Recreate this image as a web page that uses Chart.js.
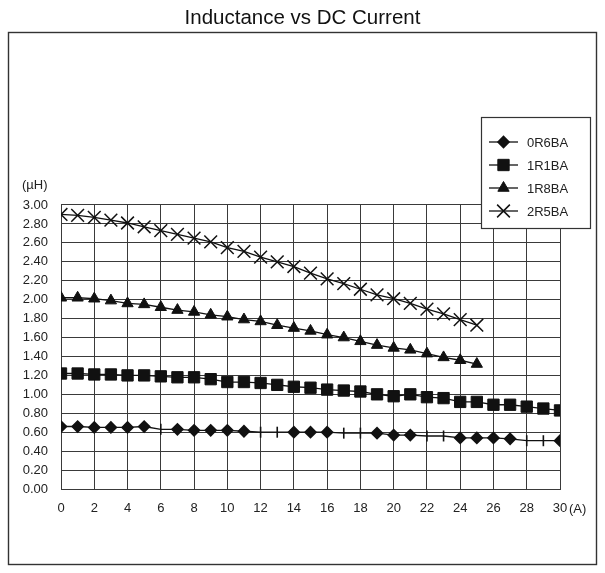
<!DOCTYPE html>
<html>
<head>
<meta charset="utf-8">
<title>Inductance vs DC Current</title>
<script src="https://cdn.jsdelivr.net/npm/chart.js"></script>
<style>
  body { margin: 0; background: #fff; }
</style>
</head>
<body>
<canvas id="inductanceChart" width="605" height="573"></canvas>
<script>
// DC current (A) at each measured point
const currentA = [0, 1, 2, 3, 4, 5, 6, 7, 8, 9, 10, 11, 12, 13, 14, 15,
  16, 17, 18, 19, 20, 21, 22, 23, 24, 25, 26, 27, 28, 29, 30];

// inductance in uH
const l0R6BA = [0.66, 0.66, 0.65, 0.65, 0.65, 0.66, 0.63, 0.63, 0.62, 0.62, 0.62,
  0.61, 0.60, 0.60, 0.60, 0.60, 0.60, 0.59, 0.59, 0.59, 0.57, 0.57, 0.56, 0.56,
  0.54, 0.54, 0.54, 0.53, 0.51, 0.51, 0.51];
const l1R1BA = [1.22, 1.22, 1.21, 1.21, 1.20, 1.20, 1.19, 1.18, 1.18, 1.16, 1.13,
  1.13, 1.12, 1.10, 1.08, 1.07, 1.05, 1.04, 1.03, 1.00, 0.98, 1.00, 0.97, 0.96,
  0.92, 0.92, 0.89, 0.89, 0.87, 0.85, 0.83];
const l1R8BA = [2.02, 2.02, 2.01, 1.99, 1.96, 1.95, 1.92, 1.89, 1.87, 1.84, 1.82,
  1.79, 1.77, 1.73, 1.70, 1.67, 1.63, 1.60, 1.56, 1.52, 1.49, 1.47, 1.43, 1.39,
  1.36, 1.32];
const l2R5BA = [2.90, 2.89, 2.87, 2.84, 2.81, 2.77, 2.73, 2.69, 2.65, 2.61, 2.55,
  2.51, 2.45, 2.40, 2.35, 2.28, 2.22, 2.17, 2.11, 2.05, 2.01, 1.96, 1.90, 1.85,
  1.79, 1.73];

// the 0R6BA trace shows a plain vertical tick instead of a diamond here
const tickMarkAt = [6, 12, 13, 17, 18, 22, 23, 28, 29];

const seriesNames = ["0R6BA", "1R1BA", "1R8BA", "2R5BA"];

const FONT = "'Liberation Sans', Arial, Helvetica, sans-serif";
const INK = "#111";

function toPoints(values) {
  return values.map((v, i) => ({ x: currentA[i], y: v }));
}

const diamondStyles = l0R6BA.map((v, i) => (tickMarkAt.includes(i) ? "line" : "rectRot"));
const diamondRot = l0R6BA.map((v, i) => (tickMarkAt.includes(i) ? 90 : 0));

function lineSet(label, values, style, radius, extra) {
  return Object.assign({
    label: label,
    data: toPoints(values),
    borderColor: INK,
    backgroundColor: INK,
    borderWidth: 1.3,
    pointStyle: style,
    pointRadius: radius,
    pointBackgroundColor: INK,
    pointBorderColor: INK,
    pointBorderWidth: 1,
    tension: 0,
  }, extra || {});
}

// frame, unit labels and the legend box with line-through markers
const decorations = {
  id: "decorations",
  afterDraw(chart) {
    const ctx = chart.ctx;
    const area = chart.chartArea;
    ctx.save();
    ctx.strokeStyle = "#333";
    ctx.lineWidth = 1.4;
    ctx.strokeRect(8.5, 32.5, 588, 532);

    ctx.fillStyle = "#222";
    ctx.font = "13px " + FONT;
    ctx.textBaseline = "middle";
    ctx.textAlign = "left";
    ctx.fillText("(\u00b5H)", 22, 185);
    ctx.fillText("(A)", area.right + 9, 509);

    // legend
    const lx = 481, ly = 117, lw = 109, lh = 111;
    ctx.fillStyle = "#fff";
    ctx.fillRect(lx, ly, lw, lh);
    ctx.strokeStyle = "#333";
    ctx.lineWidth = 1.2;
    ctx.strokeRect(lx + 0.5, ly + 0.5, lw, lh);

    chart.data.datasets.forEach((ds, i) => {
      const y = 142 + i * 23;
      ctx.strokeStyle = INK;
      ctx.lineWidth = 1.3;
      ctx.beginPath();
      ctx.moveTo(489, y);
      ctx.lineTo(518, y);
      ctx.stroke();
      ctx.fillStyle = INK;
      ctx.lineWidth = ds.pointBorderWidth;
      Chart.helpers.drawPoint(ctx, {
        pointStyle: Array.isArray(ds.pointStyle) ? ds.pointStyle[0] : ds.pointStyle,
        radius: ds.pointRadius,
        rotation: 0,
        borderWidth: ds.pointBorderWidth,
      }, 503.5, y);
      ctx.fillStyle = "#222";
      ctx.font = "13px " + FONT;
      ctx.fillText(seriesNames[i], 527, y + 1);
    });
    ctx.restore();
  },
};

new Chart(document.getElementById("inductanceChart"), {
  type: "line",
  data: {
    datasets: [
      lineSet(seriesNames[0], l0R6BA, diamondStyles, 5.5, { pointRotation: diamondRot, pointBorderWidth: 1.6 }),
      lineSet(seriesNames[1], l1R1BA, "rect", 8),
      lineSet(seriesNames[2], l1R8BA, "triangle", 6.5),
      lineSet(seriesNames[3], l2R5BA, "crossRot", 9, { pointBorderWidth: 1.5 }),
    ],
  },
  options: {
    responsive: false,
    animation: false,
    layout: { padding: 0 },
    plugins: {
      legend: { display: false },
      tooltip: { enabled: false },
      title: {
        display: true,
        text: "Inductance vs DC Current",
        color: "#111",
        font: { family: FONT, size: 20.5, weight: "normal" },
        padding: { top: 5.7, bottom: 174.7 },
      },
    },
    scales: {
      x: {
        type: "linear",
        min: 0,
        max: 30,
        afterFit(scale) { scale.height = 84; },
        ticks: {
          stepSize: 2,
          padding: 12,
          color: "#222",
          font: { family: FONT, size: 13 },
        },
        grid: { color: "#3a3a3a", lineWidth: 1, drawTicks: false },
        border: { color: "#3a3a3a", width: 1 },
      },
      y: {
        min: 0,
        max: 3,
        afterFit(scale) { scale.width = 61; },
        ticks: {
          stepSize: 0.2,
          padding: 13,
          color: "#222",
          font: { family: FONT, size: 13 },
          callback: (v) => v.toFixed(2),
        },
        grid: { color: "#3a3a3a", lineWidth: 1, drawTicks: false },
        border: { color: "#3a3a3a", width: 1 },
      },
      // empty right-hand gutter so the title stays centred on the page
      gutter: {
        position: "right",
        min: 0,
        max: 3,
        afterFit(scale) { scale.width = 45; },
        ticks: { display: false },
        grid: { display: false },
        border: { display: false },
      },
    },
  },
  plugins: [decorations],
});
</script>
</body>
</html>
